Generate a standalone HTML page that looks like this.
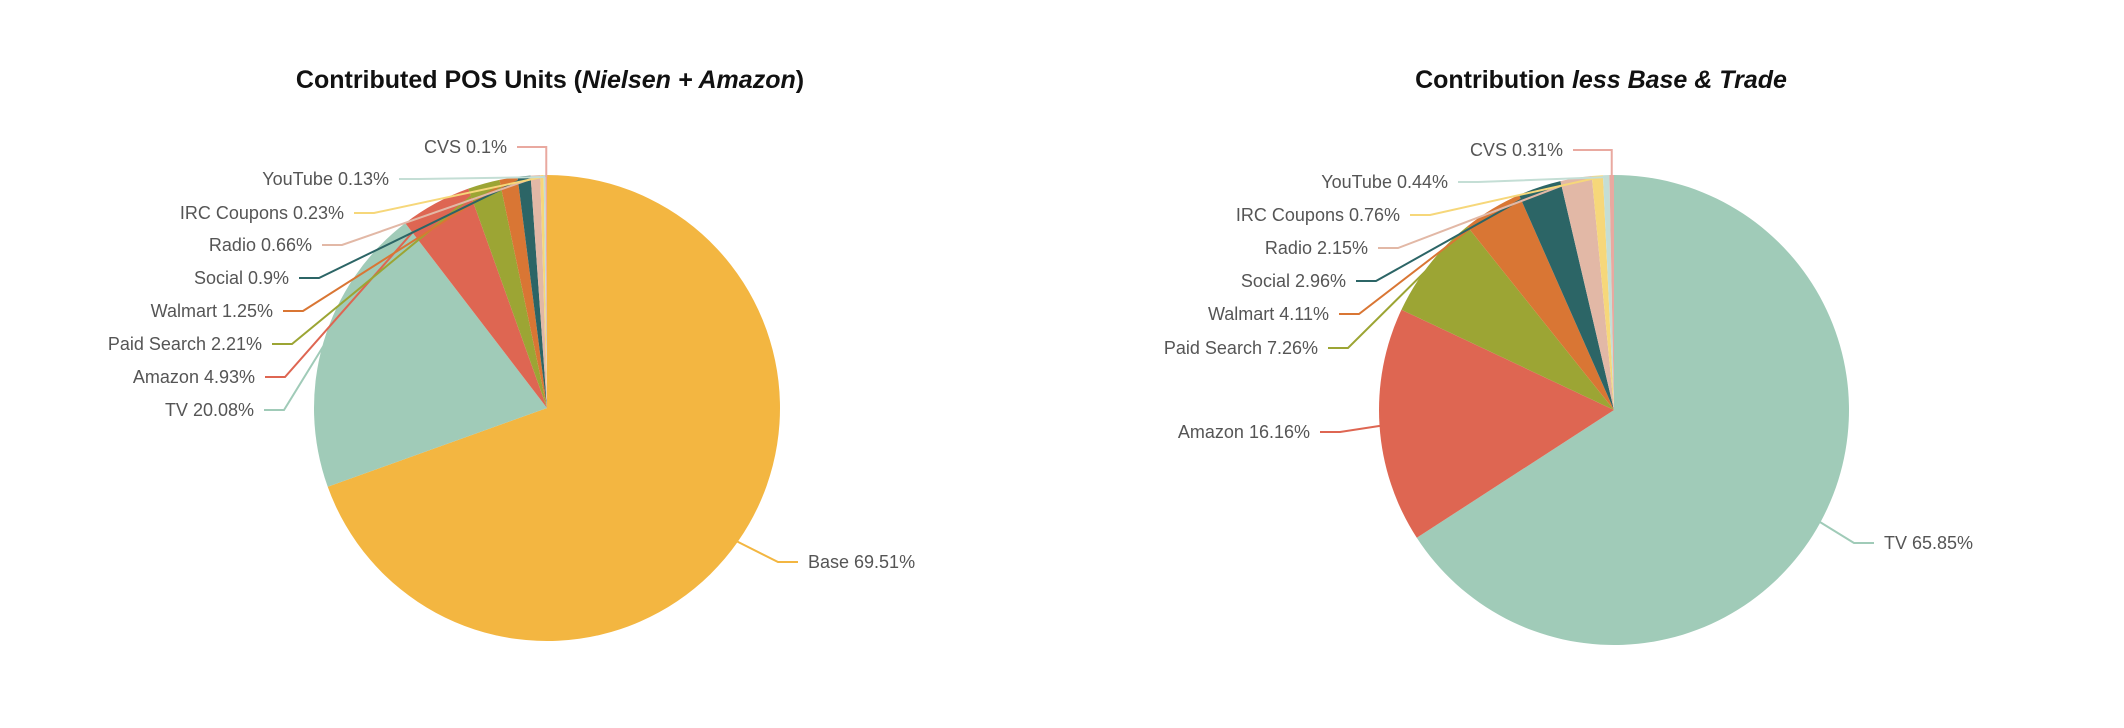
<!DOCTYPE html>
<html><head><meta charset="utf-8"><style>
html,body{margin:0;padding:0;background:#fff;}
svg{display:block;}
.lbl{font-family:"Liberation Sans","DejaVu Sans",sans-serif;font-size:18px;fill:#555;}
.ttl{font-family:"Liberation Sans",sans-serif;font-size:25px;font-weight:bold;fill:#111;}
</style></head><body>
<svg id="chart" width="2124" height="728" viewBox="0 0 2124 728" xmlns="http://www.w3.org/2000/svg">
<text class="ttl" x="550" y="88" text-anchor="middle">Contributed POS Units (<tspan font-style="italic">Nielsen + Amazon</tspan>)</text>
<text class="ttl" x="1601" y="88" text-anchor="middle">Contribution <tspan font-style="italic">less Base &amp; Trade</tspan></text>
<g id="g1"></g><g id="g2"></g>
</svg>
<script>
const leftCategories = ["Base","TV","Amazon","Paid Search","Walmart","Social","Radio","IRC Coupons","YouTube","CVS"];
const leftValues = [69.51,20.08,4.93,2.21,1.25,0.9,0.66,0.23,0.13,0.1];
const leftLabels = ["Base 69.51%","TV 20.08%","Amazon 4.93%","Paid Search 2.21%","Walmart 1.25%","Social 0.9%","Radio 0.66%","IRC Coupons 0.23%","YouTube 0.13%","CVS 0.1%"];
const rightCategories = ["TV","Amazon","Paid Search","Walmart","Social","Radio","IRC Coupons","YouTube","CVS"];
const rightValues = [65.85,16.16,7.26,4.11,2.96,2.15,0.76,0.44,0.31];
const rightLabels = ["TV 65.85%","Amazon 16.16%","Paid Search 7.26%","Walmart 4.11%","Social 2.96%","Radio 2.15%","IRC Coupons 0.76%","YouTube 0.44%","CVS 0.31%"];
const colors = {"Base":"#F3B641","TV":"#A0CBB8","Amazon":"#DE6652","Paid Search":"#9CA534","Walmart":"#D97634","Social":"#2C6566","Radio":"#E2B8A6","IRC Coupons":"#F6D77A","YouTube":"#C4DED5","CVS":"#E9A9A0"};
const NS="http://www.w3.org/2000/svg";
function drawPie(gid,cats,vals,labs,cx,cy,r,labelPos){
  const g=document.getElementById(gid);
  const total=vals.reduce((a,b)=>a+b,0);
  let a0=-Math.PI/2;
  cats.forEach((c,i)=>{
    const a1=a0+vals[i]/total*2*Math.PI;
    const x0=cx+r*Math.cos(a0),y0=cy+r*Math.sin(a0),x1=cx+r*Math.cos(a1),y1=cy+r*Math.sin(a1);
    const p=document.createElementNS(NS,"path");
    p.setAttribute("d",`M${cx},${cy}L${x0},${y0}A${r},${r} 0 ${(a1-a0)>Math.PI?1:0} 1 ${x1},${y1}Z`);
    p.setAttribute("fill",colors[c]);
    
    
    g.appendChild(p);
    const am=(a0+a1)/2;
    const ex=cx+(r-2)*Math.cos(am),ey=cy+(r-2)*Math.sin(am);
    const lp=labelPos[i];
    const right=lp[2]==='s';
    const sx=right?lp[0]-10:lp[0]+10;
    const mx=right?lp[0]-30:lp[0]+30;
    const pl=document.createElementNS(NS,"polyline");
    let pts;
    if(c==="CVS"){pts=`${sx},${lp[1]-6} ${ex},${lp[1]-6} ${ex},${ey}`;}
    else pts=`${sx},${lp[1]-6} ${mx},${lp[1]-6} ${ex},${ey}`;
    pl.setAttribute("points",pts);
    pl.setAttribute("fill","none");
    pl.setAttribute("stroke",colors[c]);
    pl.setAttribute("stroke-width","2");
    
    
    g.appendChild(pl);
    const t=document.createElementNS(NS,"text");
    t.setAttribute("class","lbl");
    t.setAttribute("x",lp[0]);t.setAttribute("y",lp[1]);
    t.setAttribute("text-anchor",right?"start":"end");
    t.textContent=labs[i];
    
    
    g.appendChild(t);
    a0=a1;
  });
}
drawPie("g1",leftCategories,leftValues,leftLabels,547,408,233,
 [[808,568,'s'],[254,416],[255,383],[262,350],[273,317],[289,284],[312,251],[344,219],[389,185],[507,153]]);
drawPie("g2",rightCategories,rightValues,rightLabels,1614,410,235,
 [[1884,549,'s'],[1310,438],[1318,354],[1329,320],[1346,287],[1368,254],[1400,221],[1448,188],[1563,156]]);
</script>
</body></html>
